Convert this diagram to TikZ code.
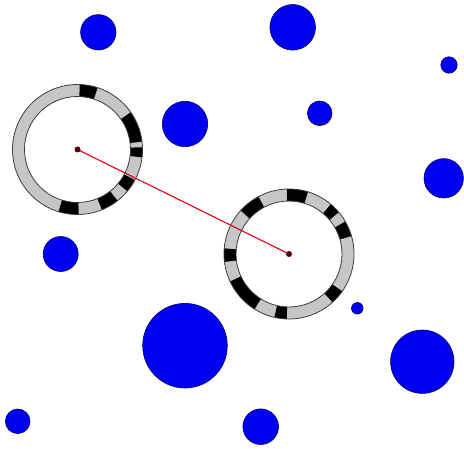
\documentclass[tikz,border=0pt]{standalone}
\begin{document}
\begin{tikzpicture}[x=1pt,y=1pt,
  blob/.style={fill={rgb,255:red,0;green,0;blue,240},draw={rgb,255:red,0;green,0;blue,110},line width=0.6pt},
  ringout/.style={draw={rgb,255:red,60;green,60;blue,60},line width=0.8pt},
  link/.style={draw={rgb,255:red,225;green,0;blue,20},line width=1.1pt}]
\useasboundingbox (0,0) rectangle (464,448);
\fill[white] (0,0) rectangle (464,448);
\newcommand\ringseg[4]{\fill[black] (#1,#2) ++(#3:65) arc[start angle=#3,end angle=#4,radius=65] -- ++({#4+180}:12) arc[start angle=#4,end angle=#3,radius=53] -- cycle;}
% blue discs
\foreach \x/\y/\r in {98.3/415.7/17.7, 185/324/22.7, 292.7/420.7/22.8, 449/383/8.2,
  319.7/334.7/12.3, 443.7/269.7/19.7, 60.7/194/17.5, 185/102.3/42.3, 17.7/26.7/12.3,
  357.3/139.7/5.8, 422.3/86.3/31.7, 260.7/21.3/17.8}
  \path[blob] (\x,\y) circle[radius=\r];
% rings
\coordinate (c1) at (77.5,298.5);
\coordinate (c2) at (289,194);
\fill[gray!45,even odd rule] (c1) circle[radius=65] (c1) circle[radius=53];
\fill[gray!45,even odd rule] (c2) circle[radius=65] (c2) circle[radius=53];
% ring 1 black segments
\ringseg{77.5}{298.5}{72}{88}
\ringseg{77.5}{298.5}{7}{35}
\ringseg{77.5}{298.5}{-7}{2}
\ringseg{77.5}{298.5}{-40}{-28}
\ringseg{77.5}{298.5}{-68}{-52}
\ringseg{77.5}{298.5}{-107}{-89}
% ring 2 black segments
\ringseg{289}{194}{73}{92}
\ringseg{289}{194}{40}{50}
\ringseg{289}{194}{16}{30}
\ringseg{289}{194}{-48}{-35}
\ringseg{289}{194}{-103}{-92}
\ringseg{289}{194}{-155}{-122}
\ringseg{289}{194}{175}{187}
\ringseg{289}{194}{118}{138}
\draw[ringout] (c1) circle[radius=65] (c1) circle[radius=53];
\draw[ringout] (c2) circle[radius=65] (c2) circle[radius=53];
% link
\path[link] (c1) -- (c2);
\fill[black!70!red] (c1) circle[radius=3];
\fill[black!70!red] (c2) circle[radius=3];
\end{tikzpicture}
\end{document}
